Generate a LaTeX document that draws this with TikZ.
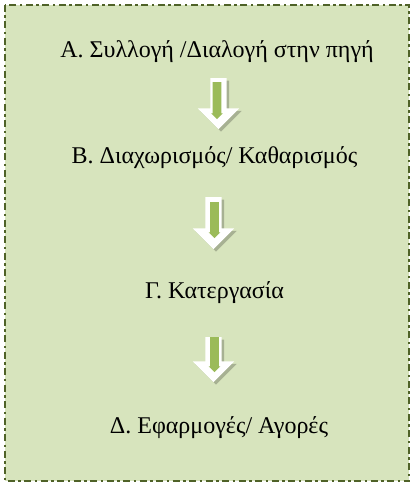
\documentclass[tikz,border=0pt]{standalone}
\usepackage{fontspec}
\setmainfont{Liberation Serif}
\usetikzlibrary{shapes.arrows}

\definecolor{panelgreen}{HTML}{D7E4BD}
\definecolor{framegreen}{HTML}{4F6228}
\definecolor{arrowgreen}{HTML}{9BBB59}

\tikzset{
  frame/.style={fill=panelgreen, draw=framegreen, line width=2.6pt,
    dash pattern=on 7pt off 3.5pt on 2.5pt off 3.5pt},
  stage/.style={anchor=base, inner sep=0pt, font=\fontsize{24}{28}\selectfont},
  blockarr/.style={single arrow, rotate=-90, draw=none, fill=white,
    inner sep=0pt, inner ysep=8pt, single arrow head extend=12.5pt,
    minimum height=#1},
  blockshadow/.style={blockarr=#1, fill=black, opacity=0.22},
  blockcore/.style={single arrow, rotate=-90, draw=none, fill=arrowgreen,
    inner sep=0pt, inner ysep=4.2pt, single arrow head extend=1.5pt,
    minimum height=#1}
}

\begin{document}
\begin{tikzpicture}[x=1pt, y=-1pt]

  \useasboundingbox (0,0) rectangle (414,486);
  \draw[frame] (5,5) rectangle (409,481);

  % the four stages
  \node[stage] (sA) at (217,57.5) {Α. Συλλογή /Διαλογή στην πηγή};
  \node[stage] (sB) at (214.5,164) {Β. Διαχωρισμός/ Καθαρισμός};
  \node[stage] (sC) at (214.5,298) {Γ. Κατεργασία};
  \node[stage] (sD) at (219,433) {Δ. Εφαρμογές/ Αγορές};

  % block arrows between them
  \node[blockshadow=51pt] (shA) at (221,102) {};
  \node[blockarr=51pt] (arA) at (218.5,99.5) {};
  \node[blockcore=37pt] (coA) at (217,98.5) {};

  \node[blockshadow=52pt] (shB) at (216,221.5) {};
  \node[blockarr=52pt] (arB) at (213.5,219) {};
  \node[blockcore=36pt] (coB) at (214.5,218) {};

  \node[blockshadow=45pt] (shC) at (216,358) {};
  \node[blockarr=45pt] (arC) at (213.5,355.5) {};
  \node[blockcore=35pt] (coC) at (214.5,352.5) {};

\end{tikzpicture}
\end{document}
